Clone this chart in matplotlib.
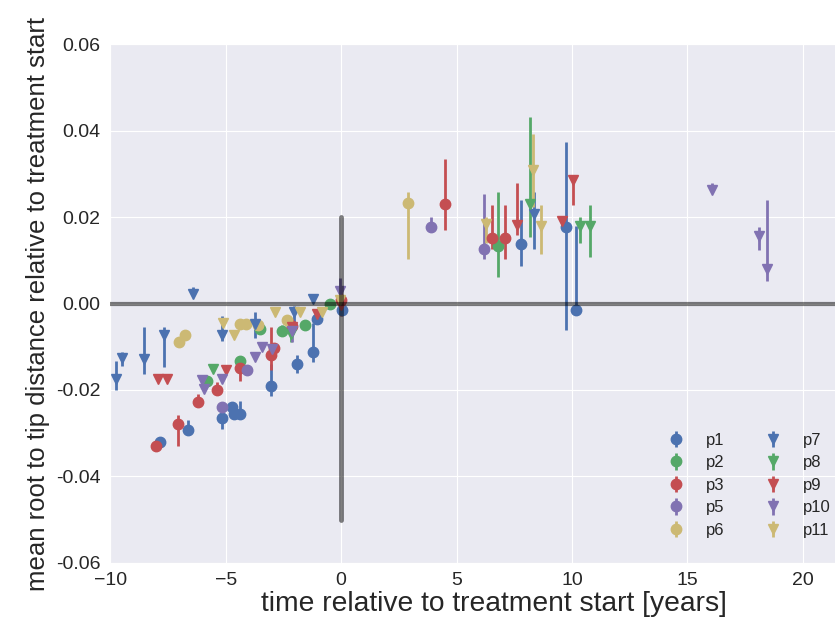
import matplotlib
matplotlib.use("Agg")
import matplotlib.pyplot as plt
import seaborn as sns
import numpy as np

sns.set_style("darkgrid")
plt.rcParams['font.family'] = ['Liberation Sans', 'DejaVu Sans']

# --- per-patient data: time [years], value, lower / upper end of error bar ---
t_p1 = [-7.84, -6.62, -5.17, -4.73, -4.66, -4.40, -3.03, -1.90, -1.20, -1.05, 0.04, 7.80, 9.75, 10.17]
d_p1 = [-0.0321, -0.0293, -0.0266, -0.0240, -0.0255, -0.0255, -0.0190, -0.0141, -0.0113, -0.0035, -0.0016, 0.0138, 0.0178, -0.0014]
lo_p1 = [-0.0321, -0.0300, -0.0290, -0.0240, -0.0262, -0.0262, -0.0213, -0.0160, -0.0136, -0.0040, -0.0020, 0.0088, -0.0062, -0.0014]
hi_p1 = [-0.0321, -0.0269, -0.0258, -0.0240, -0.0250, -0.0225, -0.0139, -0.0120, -0.0046, -0.0030, -0.0010, 0.0240, 0.0375, 0.0180]

t_p2 = [-5.80, -4.40, -3.50, -2.57, -1.55, -0.47, 6.80]
d_p2 = [-0.0180, -0.0134, -0.0058, -0.0063, -0.0050, 0.0000, 0.0134]
lo_p2 = [-0.0180, -0.0150, -0.0058, -0.0075, -0.0060, 0.0000, 0.0061]
hi_p2 = [-0.0180, -0.0125, -0.0058, -0.0050, -0.0040, 0.0000, 0.0258]

t_p3 = [-8.02, -7.05, -6.20, -5.38, -4.40, -3.05, -2.92, -2.13, 0.00, 4.50, 6.52, 7.10]
d_p3 = [-0.0329, -0.0280, -0.0229, -0.0201, -0.0150, -0.0118, -0.0103, -0.0051, 0.0008, 0.0231, 0.0152, 0.0152]
lo_p3 = [-0.0329, -0.0329, -0.0229, -0.0201, -0.0180, -0.0155, -0.0103, -0.0070, -0.0010, 0.0171, 0.0127, 0.0104]
hi_p3 = [-0.0329, -0.0259, -0.0209, -0.0182, -0.0140, -0.0055, -0.0103, -0.0040, 0.0040, 0.0335, 0.0227, 0.0227]

t_p5 = [-5.17, -4.08, 3.90, 6.19]
d_p5 = [-0.0240, -0.0155, 0.0178, 0.0127]
lo_p5 = [-0.0240, -0.0155, 0.0178, 0.0104]
hi_p5 = [-0.0240, -0.0155, 0.0201, 0.0254]

t_p6 = [-7.00, -6.75, -4.40, -4.10, -3.60, -2.35, 2.91]
d_p6 = [-0.0090, -0.0074, -0.0047, -0.0047, -0.0050, -0.0039, 0.0232]
lo_p6 = [-0.0090, -0.0074, -0.0047, -0.0047, -0.0050, -0.0039, 0.0104]
hi_p6 = [-0.0090, -0.0074, -0.0047, -0.0047, -0.0050, -0.0039, 0.0258]

t_p7 = [-9.74, -9.50, -8.52, -7.69, -6.42, -5.17, -3.72, -2.06, -1.22, 8.36]
d_p7 = [-0.0174, -0.0126, -0.0128, -0.0074, 0.0022, -0.0074, -0.0047, -0.0020, 0.0011, 0.0208]
lo_p7 = [-0.0201, -0.0144, -0.0163, -0.0148, 0.0022, -0.0086, -0.0080, -0.0060, 0.0011, 0.0127]
hi_p7 = [-0.0132, -0.0113, -0.0055, -0.0055, 0.0038, -0.0028, -0.0020, -0.0005, 0.0022, 0.0258]

t_p8 = [-5.57, -2.16, 8.20, 10.35, 10.78]
d_p8 = [-0.0151, -0.0070, 0.0231, 0.0180, 0.0180]
lo_p8 = [-0.0151, -0.0090, 0.0154, 0.0140, 0.0107]
hi_p8 = [-0.0151, -0.0060, 0.0431, 0.0201, 0.0229]

t_p9 = [-7.94, -7.55, -5.00, -2.13, -1.05, 0.00, 7.60, 9.55, 10.06]
d_p9 = [-0.0174, -0.0174, -0.0154, -0.0055, -0.0024, -0.0003, 0.0181, 0.0192, 0.0285]
lo_p9 = [-0.0174, -0.0174, -0.0154, -0.0065, -0.0024, -0.0030, 0.0158, 0.0192, 0.0229]
hi_p9 = [-0.0174, -0.0174, -0.0154, -0.0035, -0.0024, 0.0020, 0.0279, 0.0192, 0.0285]

t_p10 = [-6.03, -5.95, -5.17, -3.72, -3.43, -3.00, -2.13, -0.07, 16.05, 18.10, 18.43]
d_p10 = [-0.0178, -0.0198, -0.0174, -0.0124, -0.0101, -0.0105, -0.0063, 0.0028, 0.0262, 0.0157, 0.0080]
lo_p10 = [-0.0178, -0.0198, -0.0174, -0.0124, -0.0101, -0.0105, -0.0090, 0.0028, 0.0262, 0.0123, 0.0053]
hi_p10 = [-0.0178, -0.0198, -0.0174, -0.0124, -0.0101, -0.0105, -0.0063, 0.0060, 0.0279, 0.0177, 0.0240]

t_p11 = [-5.10, -4.66, -2.86, -1.77, -0.84, -0.04, 6.28, 8.30, 8.64]
d_p11 = [-0.0046, -0.0074, -0.0020, -0.0020, -0.0020, 0.0007, 0.0185, 0.0308, 0.0180]
lo_p11 = [-0.0046, -0.0074, -0.0020, -0.0020, -0.0020, 0.0007, 0.0140, 0.0223, 0.0115]
hi_p11 = [-0.0046, -0.0074, -0.0020, -0.0020, -0.0020, 0.0007, 0.0201, 0.0393, 0.0227]

patients = [
    ("p1", t_p1, d_p1, lo_p1, hi_p1, 'o'),
    ("p2", t_p2, d_p2, lo_p2, hi_p2, 'o'),
    ("p3", t_p3, d_p3, lo_p3, hi_p3, 'o'),
    ("p5", t_p5, d_p5, lo_p5, hi_p5, 'o'),
    ("p6", t_p6, d_p6, lo_p6, hi_p6, 'o'),
    ("p7", t_p7, d_p7, lo_p7, hi_p7, 'v'),
    ("p8", t_p8, d_p8, lo_p8, hi_p8, 'v'),
    ("p9", t_p9, d_p9, lo_p9, hi_p9, 'v'),
    ("p10", t_p10, d_p10, lo_p10, hi_p10, 'v'),
    ("p11", t_p11, d_p11, lo_p11, hi_p11, 'v'),
]
colors = ['#4C72B0', '#55A868', '#C44E52', '#8172B2', '#CCB974']

fig = plt.figure(figsize=(8.35, 6.33), dpi=100)
# axes runs past the right edge of the figure
ax = fig.add_axes([0.132, 0.111, 0.92, 0.819])

for i, (name, t, d, lo, hi, marker) in enumerate(patients):
    d = np.array(d)
    yerr = [d - np.array(lo), np.array(hi) - d]
    ax.errorbar(t, d, yerr=yerr, fmt=marker, color=colors[i % 5],
                ms=7.5, elinewidth=2, capsize=0, label=name)

# treatment start markers
ax.axhline(0, color='k', alpha=0.5, lw=3, zorder=5)
ax.plot([0, 0], [-0.05, 0.02], color='k', alpha=0.5, lw=3.5, zorder=5)

ax.set_xlim(-10, 23.27)
ax.set_ylim(-0.06, 0.06)
ax.set_xticks([-10, -5, 0, 5, 10, 15, 20])
ax.set_yticks([-0.06, -0.04, -0.02, 0.0, 0.02, 0.04, 0.06])
ax.set_yticklabels(['%.2f' % v for v in ax.get_yticks()])
ax.tick_params(labelsize=14)
ax.set_xlabel("time relative to treatment start [years]", fontsize=20.3, labelpad=1)
ax.set_ylabel("mean root to tip distance relative to treatment start", fontsize=18.5)

ax.legend(loc='lower right', ncol=2, fontsize=12, numpoints=1,
          frameon=False, columnspacing=1.9, labelspacing=0.45,
          bbox_to_anchor=(1.003, 0.14), bbox_transform=fig.transFigure,
          borderaxespad=0)

fig.savefig("out.png", dpi=100)
